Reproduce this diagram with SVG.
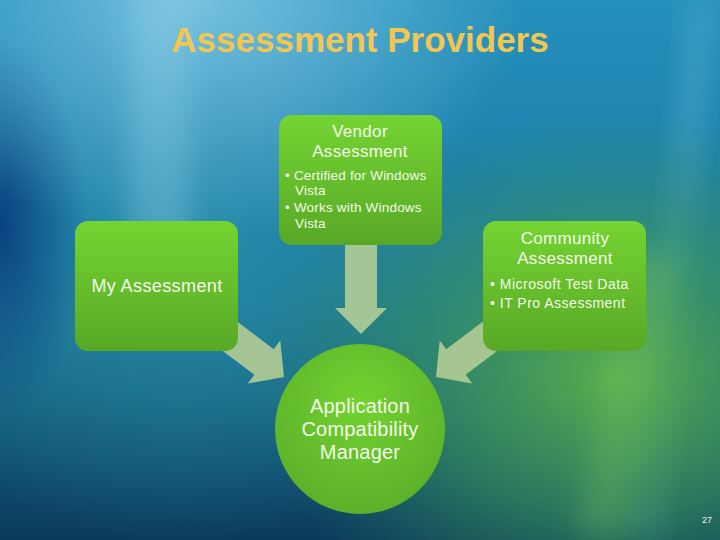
<svg xmlns="http://www.w3.org/2000/svg" width="720" height="540" viewBox="0 0 720 540">
<defs>
<linearGradient id="bg" x1="0" y1="0" x2="0" y2="1">
<stop offset="0" stop-color="#2490bc"/>
<stop offset="0.45" stop-color="#1b7ba6"/>
<stop offset="0.75" stop-color="#135a7c"/>
<stop offset="1" stop-color="#0b3b5c"/>
</linearGradient>
<radialGradient id="leftDark" cx="0" cy="0.42" r="0.35" gradientTransform="translate(0 0.42) scale(0.35 1) translate(0 -0.42)">
<stop offset="0" stop-color="#083a7c" stop-opacity="0.9"/>
<stop offset="1" stop-color="#083a7c" stop-opacity="0"/>
</radialGradient>
<radialGradient id="greenGlow" cx="0.85" cy="0.7" r="0.5">
<stop offset="0" stop-color="#5cb048" stop-opacity="0.95"/>
<stop offset="0.5" stop-color="#3f9a58" stop-opacity="0.6"/>
<stop offset="1" stop-color="#2f8a5a" stop-opacity="0"/>
</radialGradient>
<radialGradient id="tealMid" cx="0.25" cy="0.55" r="0.45">
<stop offset="0" stop-color="#2c94a8" stop-opacity="0.7"/>
<stop offset="1" stop-color="#2c94a8" stop-opacity="0"/>
</radialGradient>
<radialGradient id="lightTop" cx="0.28" cy="0" r="0.45">
<stop offset="0" stop-color="#8fd0ea" stop-opacity="0.75"/>
<stop offset="1" stop-color="#8fd0ea" stop-opacity="0"/>
</radialGradient>
<linearGradient id="boxFill" x1="0" y1="0" x2="0" y2="1">
<stop offset="0" stop-color="#74d432"/>
<stop offset="1" stop-color="#58a826"/>
</linearGradient>
<radialGradient id="circFill" cx="0.5" cy="0.35" r="0.65">
<stop offset="0" stop-color="#72d230"/>
<stop offset="1" stop-color="#5cb02a"/>
</radialGradient>
<filter id="blur" x="-50%" y="-10%" width="200%" height="120%"><feGaussianBlur stdDeviation="14"/></filter>
</defs>
<style>
.box{fill:url(#boxFill);}
.arrow{fill:#b2cc96;fill-opacity:0.9;}
.t{font-family:"Liberation Sans",Arial,sans-serif;fill:#f4fbe8;}
.h{font-size:17px;letter-spacing:0.3px;text-anchor:middle;}
.b{font-size:13.5px;letter-spacing:0.2px;}
.c{font-size:20px;letter-spacing:0.2px;text-anchor:middle;}
</style>
<g id="background">
<rect width="720" height="540" fill="url(#bg)"/>
<rect width="720" height="540" fill="url(#tealMid)"/>
<rect width="720" height="540" fill="url(#leftDark)"/>
<rect width="720" height="540" fill="url(#lightTop)"/>
<rect x="130" y="-20" width="60" height="300" fill="#9ed8ee" opacity="0.3" filter="url(#blur)"/>
<rect x="660" y="0" width="28" height="540" fill="#6cbcd8" opacity="0.35" filter="url(#blur)" transform="rotate(6 674 270)"/>
<rect width="720" height="540" fill="url(#greenGlow)"/>
<rect x="600" y="250" width="50" height="290" fill="#80c860" opacity="0.3" filter="url(#blur)" transform="rotate(10 625 400)"/>
</g>
<text x="360" y="52" font-family="Liberation Sans,Arial,sans-serif" font-weight="bold" font-size="35" fill="#f2c653" text-anchor="middle">Assessment Providers</text>
<g id="connectors">
<path class="arrow" d="M345,240 H377 V308 H387 L361,334 L335,308 H345 Z"/>
<path class="arrow" d="M-80,-16 H-25 V-27 L0,0 L-25,27 V16 H-80 Z" transform="translate(284 377) rotate(37)"/>
<path class="arrow" d="M-80,-16 H-25 V-27 L0,0 L-25,27 V16 H-80 Z" transform="translate(436 377) rotate(143)"/>
</g>
<g id="vendor">
<rect class="box" x="279" y="115" width="163" height="130" rx="13"/>
<text class="t h" x="360" y="137">Vendor</text>
<text class="t h" x="360" y="157">Assessment</text>
<text class="t b" x="285" y="180">• Certified for Windows</text>
<text class="t b" x="295" y="195">Vista</text>
<text class="t b" x="285" y="212">• Works with Windows</text>
<text class="t b" x="295" y="228">Vista</text>
</g>
<g id="my-assessment">
<rect class="box" x="75" y="221" width="163" height="130" rx="13"/>
<text class="t" x="157" y="292" font-size="18" letter-spacing="0.4" text-anchor="middle">My Assessment</text>
</g>
<g id="community">
<rect class="box" x="483" y="221" width="163" height="130" rx="13"/>
<text class="t h" x="565" y="244">Community</text>
<text class="t h" x="565" y="264">Assessment</text>
<text class="t" x="490" y="289" font-size="14" letter-spacing="0.5">• Microsoft Test Data</text>
<text class="t" x="490" y="308" font-size="14" letter-spacing="0.5">• IT Pro Assessment</text>
</g>
<g id="acm">
<circle cx="360" cy="429" r="85" fill="url(#circFill)"/>
<text class="t c" x="360" y="413">Application</text>
<text class="t c" x="360" y="436">Compatibility</text>
<text class="t c" x="360" y="459">Manager</text>
</g>
<text x="712" y="523" font-family="Liberation Sans,Arial,sans-serif" font-size="9" fill="#e8f4f0" text-anchor="end">27</text>
</svg>
